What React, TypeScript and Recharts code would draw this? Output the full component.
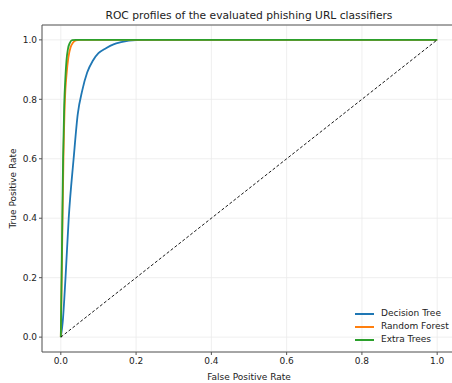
import React from "react";
import {
  LineChart,
  Line,
  XAxis,
  YAxis,
  CartesianGrid,
  ReferenceLine,
} from "recharts";

const axisTicks = [0, 0.2, 0.4, 0.6, 0.8, 1.0];

const decisionTreeFpr = [0, 0.005, 0.0125, 0.021, 0.034, 0.045, 0.057, 0.07, 0.085, 0.1, 0.12, 0.14, 0.16, 0.2, 0.25, 1];
const decisionTreeTpr = [0, 0.05, 0.2, 0.4, 0.6, 0.75, 0.83, 0.89, 0.93, 0.955, 0.972, 0.985, 0.992, 0.999, 1, 1];

const randomForestFpr = [0, 0.0035, 0.007, 0.011, 0.015, 0.02, 0.026, 0.032, 0.04, 0.05, 1];
const randomForestTpr = [0, 0.3, 0.6, 0.8, 0.88, 0.94, 0.975, 0.99, 0.998, 1, 1];

const extraTreesFpr = [0, 0.003, 0.006, 0.009, 0.012, 0.015, 0.019, 0.024, 0.03, 0.04, 1];
const extraTreesTpr = [0, 0.3, 0.6, 0.78, 0.87, 0.93, 0.97, 0.99, 0.999, 1, 1];

const chanceFpr = [0, 1];
const chanceTpr = [0, 1];

const toPoints = (fpr: number[], tpr: number[]) =>
  fpr.map((x, i) => ({ fpr: x, tpr: tpr[i] }));

const series = [
  { name: "Decision Tree", color: "#1f77b4", data: toPoints(decisionTreeFpr, decisionTreeTpr) },
  { name: "Random Forest", color: "#ff7f0e", data: toPoints(randomForestFpr, randomForestTpr) },
  { name: "Extra Trees", color: "#2ca02c", data: toPoints(extraTreesFpr, extraTreesTpr) },
];

const font = "'DejaVu Sans', sans-serif";
const textColor = "#222";
const smallSize = 9;

export default function App() {
  return (
    <div
      style={{
        position: "absolute",
        left: 0,
        top: 0,
        width: 452,
        height: 383,
        overflow: "hidden",
        background: "#fff",
        fontFamily: font,
      }}
    >
      <div
        style={{
          position: "absolute",
          left: 0,
          width: 498,
          top: 9,
          textAlign: "center",
          fontSize: 10.7,
          color: textColor,
          lineHeight: "13px",
        }}
      >
        ROC profiles of the evaluated phishing URL classifiers
      </div>
      <LineChart
        width={456}
        height={383}
        margin={{ top: 25, right: 0, bottom: 0, left: 0 }}
      >
        <CartesianGrid stroke="#ebebeb" strokeWidth={0.8} />
        <XAxis
          dataKey="fpr"
          type="number"
          domain={[-0.05, 1.05]}
          ticks={axisTicks}
          tickFormatter={(v: number) => v.toFixed(1)}
          height={31}
          tickSize={3}
          tickMargin={3}
          stroke="#555"
          tick={{ fontSize: smallSize, fill: textColor, fontFamily: font }}
          label={{
            value: "False Positive Rate",
            position: "insideBottom",
            offset: 3,
            fontSize: smallSize,
            fill: textColor,
            fontFamily: font,
          }}
        />
        <YAxis
          type="number"
          domain={[-0.05, 1.05]}
          ticks={axisTicks}
          tickFormatter={(v: number) => v.toFixed(1)}
          width={42}
          tickSize={3}
          tickMargin={2}
          stroke="#555"
          tick={{ fontSize: smallSize, fill: textColor, fontFamily: font }}
          label={{
            value: "True Positive Rate",
            angle: -90,
            position: "insideLeft",
            offset: 13,
            style: { textAnchor: "middle" },
            fontSize: smallSize,
            fill: textColor,
            fontFamily: font,
          }}
        />
        <ReferenceLine y={1.05} stroke="#555" strokeWidth={1} />
        {series.map((s) => (
          <Line
            key={s.name}
            data={s.data}
            dataKey="tpr"
            type="monotone"
            stroke={s.color}
            strokeWidth={1.8}
            dot={false}
            isAnimationActive={false}
          />
        ))}
        <Line
          data={toPoints(chanceFpr, chanceTpr)}
          dataKey="tpr"
          type="linear"
          stroke="#000"
          strokeWidth={0.9}
          strokeDasharray="3 2"
          dot={false}
          isAnimationActive={false}
        />
      </LineChart>
      <div
        style={{
          position: "absolute",
          left: 355,
          top: 307,
          fontSize: smallSize,
          color: textColor,
          lineHeight: "13px",
        }}
      >
        {series.map((s) => (
          <div key={s.name} style={{ display: "flex", alignItems: "center" }}>
            <span
              style={{
                display: "inline-block",
                width: 19,
                height: 2,
                background: s.color,
                marginRight: 7,
              }}
            />
            {s.name}
          </div>
        ))}
      </div>
    </div>
  );
}
